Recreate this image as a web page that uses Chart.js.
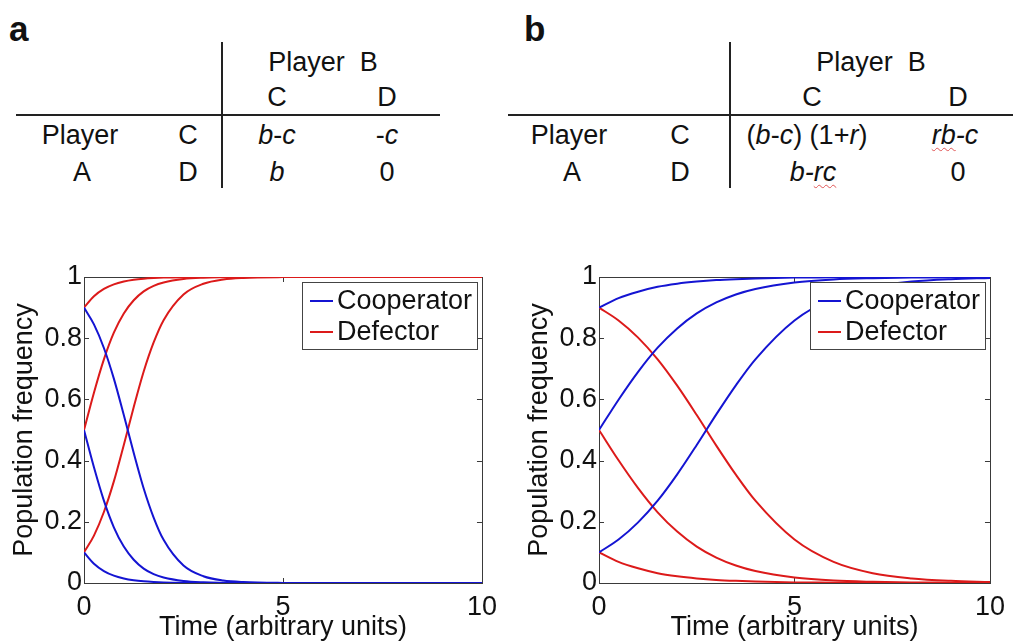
<!DOCTYPE html>
<html>
<head>
<meta charset="utf-8">
<script src="https://cdn.jsdelivr.net/npm/chart.js@4.4.1/dist/chart.umd.min.js"></script>
<style>
  html, body { margin: 0; padding: 0; background: #fff; }
  #page { position: relative; width: 1013px; height: 641px; overflow: hidden; background: #fff;
          font-family: "Liberation Sans", Arial, Helvetica, sans-serif; color: #111; }
  .panel-letter { position: absolute; font-weight: bold; font-size: 35px; line-height: 35px; color: #111; }
  .cell { position: absolute; font-size: 27px; line-height: 27px; white-space: nowrap;
          transform: translate(-50%, -50%); }
  .cell i { font-style: italic; }
  .spell { text-decoration: underline wavy #e05555; text-decoration-thickness: 1px; text-underline-offset: 3px; }
  .rule { position: absolute; background: #222; }
  canvas { position: absolute; }
</style>
</head>
<body>
<div id="page">
  <div class="panel-letter" style="left:9px; top:11px;">a</div>
  <div class="panel-letter" style="left:524px; top:11px;">b</div>

  <!-- payoff table, panel a -->
  <div class="rule" style="left:221px; top:42px; width:2px; height:146px;"></div>
  <div class="rule" style="left:16px; top:114px; width:424px; height:2px;"></div>
  <div class="cell" style="left:323px; top:62px;">Player&nbsp; B</div>
  <div class="cell" style="left:277px; top:97px;">C</div>
  <div class="cell" style="left:387px; top:97px;">D</div>
  <div class="cell" style="left:80px; top:135px;">Player</div>
  <div class="cell" style="left:188px; top:135px;">C</div>
  <div class="cell" style="left:277px; top:135px;"><i>b</i>-<i>c</i></div>
  <div class="cell" style="left:387px; top:135px;">-<i>c</i></div>
  <div class="cell" style="left:82px; top:172px;">A</div>
  <div class="cell" style="left:188px; top:172px;">D</div>
  <div class="cell" style="left:277px; top:172px;"><i>b</i></div>
  <div class="cell" style="left:387px; top:172px;">0</div>

  <!-- payoff table, panel b -->
  <div class="rule" style="left:729px; top:42px; width:2px; height:146px;"></div>
  <div class="rule" style="left:508px; top:114px; width:505px; height:2px;"></div>
  <div class="cell" style="left:871px; top:62px;">Player&nbsp; B</div>
  <div class="cell" style="left:812px; top:97px;">C</div>
  <div class="cell" style="left:958px; top:97px;">D</div>
  <div class="cell" style="left:569px; top:135px;">Player</div>
  <div class="cell" style="left:680px; top:135px;">C</div>
  <div class="cell" style="left:807px; top:135px;">(<i>b</i>-<i>c</i>) (1+<i>r</i>)</div>
  <div class="cell" style="left:955px; top:135px;"><i><span class="spell">rb</span>-c</i></div>
  <div class="cell" style="left:572px; top:172px;">A</div>
  <div class="cell" style="left:680px; top:172px;">D</div>
  <div class="cell" style="left:813px; top:172px;"><i>b-<span class="spell">rc</span></i></div>
  <div class="cell" style="left:958px; top:172px;">0</div>

  <canvas id="chartA" width="505" height="391" style="left:0px; top:250px;"></canvas>
  <canvas id="chartB" width="498" height="391" style="left:515px; top:250px;"></canvas>
</div>

<script>
// time samples (arbitrary units)
const timeA = [0, 0.25, 0.5, 0.75, 1, 1.25, 1.5, 1.75, 2, 2.5, 3, 3.5, 4, 5, 6, 8, 10];
const timeB = [0, 0.5, 1, 1.5, 2, 2.5, 3, 3.5, 4, 5, 6, 7, 8, 9, 10];

// panel a: prisoner's dilemma, cooperators die out
const coopA_09 = [0.9, 0.845, 0.768, 0.668, 0.549, 0.425, 0.309, 0.214, 0.141, 0.057, 0.022, 0.008, 0.003, 0.0004, 0, 0, 0];
const coopA_05 = [0.5, 0.378, 0.269, 0.182, 0.119, 0.076, 0.047, 0.029, 0.018, 0.0067, 0.0025, 0.001, 0.0003, 0, 0, 0, 0];
const coopA_01 = [0.1, 0.063, 0.039, 0.024, 0.0148, 0.009, 0.0055, 0.0034, 0.002, 0.0007, 0.0003, 0.0001, 0, 0, 0, 0, 0];
const defA_01 = [0.1, 0.155, 0.232, 0.332, 0.451, 0.575, 0.691, 0.786, 0.859, 0.943, 0.978, 0.992, 0.997, 0.9996, 1, 1, 1];
const defA_05 = [0.5, 0.622, 0.731, 0.818, 0.881, 0.924, 0.953, 0.971, 0.982, 0.9933, 0.9975, 0.999, 0.9997, 1, 1, 1, 1];
const defA_09 = [0.9, 0.937, 0.961, 0.976, 0.9852, 0.991, 0.9945, 0.9966, 0.998, 0.9993, 0.9997, 0.9999, 1, 1, 1, 1, 1];

// panel b: with relatedness r, cooperators take over
const coopB_01 = [0.1, 0.142, 0.198, 0.269, 0.355, 0.451, 0.551, 0.646, 0.731, 0.858, 0.931, 0.968, 0.985, 0.993, 0.997];
const coopB_05 = [0.5, 0.599, 0.690, 0.769, 0.832, 0.881, 0.917, 0.943, 0.961, 0.982, 0.992, 0.996, 0.998, 0.999, 1.0];
const coopB_09 = [0.9, 0.931, 0.952, 0.968, 0.978, 0.985, 0.990, 0.993, 0.995, 0.998, 0.999, 1.0, 1.0, 1.0, 1.0];
const defB_09 = [0.9, 0.858, 0.802, 0.731, 0.645, 0.549, 0.449, 0.354, 0.269, 0.142, 0.069, 0.032, 0.015, 0.007, 0.003];
const defB_05 = [0.5, 0.401, 0.310, 0.231, 0.168, 0.119, 0.083, 0.057, 0.039, 0.018, 0.008, 0.004, 0.002, 0.001, 0.0];
const defB_01 = [0.1, 0.069, 0.048, 0.032, 0.022, 0.015, 0.010, 0.007, 0.005, 0.002, 0.001, 0.0, 0.0, 0.0, 0.0];

// axis ticks and labels
const xTicks = [0, 5, 10];
const xTickLabels = ['0', '5', '10'];
const yTicks = [0, 0.2, 0.4, 0.6, 0.8, 1];
const yTickLabels = ['0', '0.2', '0.4', '0.6', '0.8', '1'];
const seriesNames = ['Cooperator', 'Defector'];
const xTitle = 'Time (arbitrary units)';
const yTitle = 'Population frequency';

const BLUE = '#1414d2';
const RED = '#dc1a1a';
const FONT = '"Liberation Sans", Arial, Helvetica, sans-serif';

function pts(times, vals) {
  return times.map((t, i) => ({ x: t, y: vals[i] }));
}
function series(times, vals, color, label) {
  return {
    label: label,
    data: pts(times, vals),
    borderColor: color,
    backgroundColor: color,
    borderWidth: 2,
    pointRadius: 0,
    cubicInterpolationMode: 'monotone',
    fill: false
  };
}

// MATLAB-style box with inward tick marks on all four sides
const boxPlugin = {
  id: 'boxAxes',
  beforeDatasetsDraw(chart) {
    const { ctx, chartArea: a, scales } = chart;
    ctx.save();
    ctx.strokeStyle = '#3a3a3a';
    ctx.lineWidth = 1;
    ctx.strokeRect(Math.round(a.left) + 0.5, Math.round(a.top) + 0.5,
                   Math.round(a.right - a.left), Math.round(a.bottom - a.top));
    const L = 5;
    ctx.beginPath();
    xTicks.forEach(v => {
      const px = Math.round(scales.x.getPixelForValue(v)) + 0.5;
      ctx.moveTo(px, a.bottom); ctx.lineTo(px, a.bottom - L);
      ctx.moveTo(px, a.top); ctx.lineTo(px, a.top + L);
    });
    yTicks.forEach(v => {
      const py = Math.round(scales.y.getPixelForValue(v)) + 0.5;
      ctx.moveTo(a.left, py); ctx.lineTo(a.left + L, py);
      ctx.moveTo(a.right, py); ctx.lineTo(a.right - L, py);
    });
    ctx.stroke();
    ctx.restore();
  }
};

// legend box in the upper-right corner of the plot area
const legendPlugin = {
  id: 'boxLegend',
  afterDatasetsDraw(chart) {
    const { ctx, chartArea: a } = chart;
    const w = 175, h = 67;
    const x0 = Math.round(a.right - 5 - w), y0 = Math.round(a.top + 5);
    ctx.save();
    ctx.fillStyle = '#fff';
    ctx.fillRect(x0, y0, w, h);
    ctx.strokeStyle = '#444';
    ctx.lineWidth = 1;
    ctx.strokeRect(x0 + 0.5, y0 + 0.5, w, h);
    const colors = [BLUE, RED];
    const rows = [y0 + 19, y0 + 50];
    ctx.font = '27px ' + FONT;
    ctx.textBaseline = 'middle';
    ctx.textAlign = 'left';
    seriesNames.forEach((name, i) => {
      ctx.strokeStyle = colors[i];
      ctx.lineWidth = 2;
      ctx.beginPath();
      ctx.moveTo(x0 + 8, rows[i]);
      ctx.lineTo(x0 + 31, rows[i]);
      ctx.stroke();
      ctx.fillStyle = '#111';
      ctx.fillText(name, x0 + 35, rows[i] + 1);
    });
    ctx.restore();
  }
};

function makeChart(id, datasets, rightPad) {
  return new Chart(document.getElementById(id), {
    type: 'line',
    data: { datasets: datasets },
    plugins: [boxPlugin, legendPlugin],
    options: {
      responsive: false,
      animation: false,
      events: [],
      layout: { padding: { left: 0, right: rightPad, top: 27, bottom: 0 } },
      plugins: { legend: { display: false }, tooltip: { enabled: false } },
      scales: {
        x: {
          type: 'linear', min: 0, max: 10,
          afterBuildTicks(s) { s.ticks = xTicks.map(v => ({ value: v })); },
          afterFit(s) { s.height = 58; },
          grid: { display: false, drawTicks: false },
          border: { display: false },
          ticks: {
            padding: 8, color: '#111', maxRotation: 0, autoSkip: false,
            font: { family: FONT, size: 27 },
            callback: (v) => xTickLabels[xTicks.indexOf(v)]
          },
          title: {
            display: true, text: xTitle, color: '#111',
            font: { family: FONT, size: 27, lineHeight: 1 },
            padding: { top: 0, bottom: 0 }
          }
        },
        y: {
          type: 'linear', min: 0, max: 1,
          afterBuildTicks(s) { s.ticks = yTicks.map(v => ({ value: v })); },
          afterFit(s) { s.width = 84; },
          grid: { display: false, drawTicks: false },
          border: { display: false },
          ticks: {
            padding: 2, color: '#111', autoSkip: false,
            font: { family: FONT, size: 27 },
            callback: (v) => yTickLabels[yTicks.findIndex(t => Math.abs(t - v) < 1e-9)]
          },
          title: {
            display: true, text: yTitle, color: '#111',
            font: { family: FONT, size: 27, lineHeight: 1 },
            padding: { top: 11, bottom: 0 }
          }
        }
      }
    }
  });
}

makeChart('chartA', [
  series(timeA, coopA_09, BLUE, 'Cooperator'),
  series(timeA, coopA_05, BLUE, 'Cooperator'),
  series(timeA, coopA_01, BLUE, 'Cooperator'),
  series(timeA, defA_01, RED, 'Defector'),
  series(timeA, defA_05, RED, 'Defector'),
  series(timeA, defA_09, RED, 'Defector')
], 21);

makeChart('chartB', [
  series(timeB, coopB_01, BLUE, 'Cooperator'),
  series(timeB, coopB_05, BLUE, 'Cooperator'),
  series(timeB, coopB_09, BLUE, 'Cooperator'),
  series(timeB, defB_09, RED, 'Defector'),
  series(timeB, defB_05, RED, 'Defector'),
  series(timeB, defB_01, RED, 'Defector')
], 14);
</script>
</body>
</html>
